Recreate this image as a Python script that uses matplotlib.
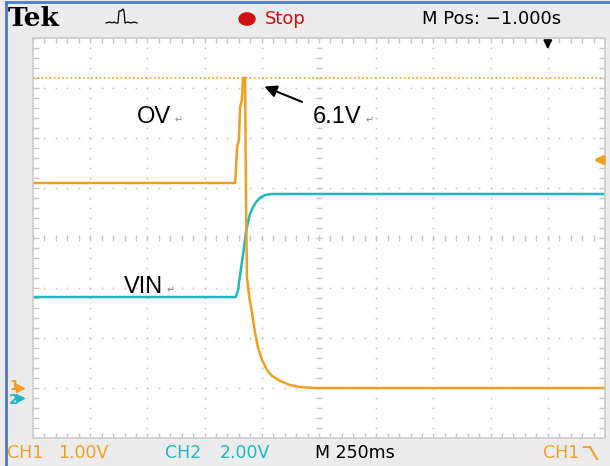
import numpy as np
import matplotlib
matplotlib.use("Agg")
from matplotlib import pyplot as plt
from matplotlib.lines import Line2D
from matplotlib.patches import Circle

# CH1 (OV) trace, time in s, volts
ov_t = [-1.25, -0.367, -0.363, -0.358, -0.350, -0.345, -0.337, -0.332, -0.323,
        -0.319, -0.315, -0.306, -0.293, -0.280, -0.267, -0.249, -0.227, -0.205,
        -0.170, -0.127, -0.083, -0.017, 1.25]
ov_v = [4.10, 4.10, 4.36, 4.82, 4.96, 5.62, 5.76, 6.20, 6.20,
        3.76, 2.22, 1.86, 1.50, 1.12, 0.82, 0.56, 0.36, 0.24,
        0.14, 0.06, 0.02, 0.0, 0.0]

# CH2 (VIN) trace
vin_t = [-1.25, -0.363, -0.354, -0.345, -0.337, -0.328, -0.319, -0.310, -0.302,
         -0.288, -0.275, -0.258, -0.236, -0.205, 1.25]
vin_v = [3.64, 3.64, 3.92, 4.52, 5.04, 5.60, 6.24, 6.64, 6.96,
         7.24, 7.44, 7.60, 7.72, 7.76, 7.76]

peak_v = 6.2
trig_level = 4.56
time_div = 0.25      # 250 ms/div
ch1_scale = 1.0      # V/div
ch2_scale = 2.0      # V/div
gnd_div = -3.0       # both ground markers

ORANGE = "#f0a020"
CYAN = "#20b8c0"
GRID = "#c4c4c4"
PANEL = "#ececec"

fig = plt.figure(figsize=(6.10, 4.66), dpi=100)
fig.patch.set_facecolor(PANEL)
W, H = 610.0, 466.0


def fx(px):
    return px / W


def fy(py):
    return 1 - py / H


# blue frame on the left and top
fig.add_artist(Line2D([fx(6), fx(6)], [0, fy(2)], color="#4a7cc8", lw=2))
fig.add_artist(Line2D([fx(6), 1], [fy(2), fy(2)], color="#4a7cc8", lw=2))

ax = fig.add_axes([fx(33), fy(438), fx(605) - fx(33), fy(38) - fy(438)])
ax.set_xlim(-5, 5)
ax.set_ylim(-4, 4)
ax.set_xticks([])
ax.set_yticks([])
for s in ax.spines.values():
    s.set_color("#cccccc")
    s.set_linewidth(1.2)

# graticule: dotted lines every division
dots = np.arange(-5, 5.001, 0.2)
dots_y = np.arange(-4, 4.001, 0.2)
for gx in range(-4, 5):
    if gx == 0:
        continue
    ax.plot([gx] * len(dots_y), dots_y, ls="none", marker="s", ms=1.2, color=GRID, mew=0)
for gy in range(-3, 4):
    if gy == 0:
        continue
    ax.plot(dots, [gy] * len(dots), ls="none", marker="s", ms=1.2, color=GRID, mew=0)
# center lines with small tick marks
ax.plot(dots, [0] * len(dots), ls="none", marker="|", ms=5, color=GRID, mew=1)
ax.plot([0] * len(dots_y), dots_y, ls="none", marker="_", ms=5, color=GRID, mew=1)
# edge ticks (inside only)
ax.plot(dots, [-3.96] * len(dots), ls="none", marker="|", ms=4, color=GRID, mew=1)
ax.plot(dots, [3.96] * len(dots), ls="none", marker="|", ms=4, color=GRID, mew=1)
ax.plot([-4.95] * len(dots_y), dots_y, ls="none", marker="_", ms=4, color=GRID, mew=1)
ax.plot([4.95] * len(dots_y), dots_y, ls="none", marker="_", ms=4, color=GRID, mew=1)

# peak cursor line
ax.axhline(peak_v / ch1_scale + gnd_div, color=ORANGE, ls=(0, (1, 1.5)), lw=1.2)

# traces
ax.plot(np.array(vin_t) / time_div, np.array(vin_v) / ch2_scale + gnd_div,
        color=CYAN, lw=1.8, solid_joinstyle="round")
ax.plot(np.array(ov_t) / time_div, np.array(ov_v) / ch1_scale + gnd_div,
        color=ORANGE, lw=1.8, solid_joinstyle="round")

# trigger position (top) and trigger level (right) markers
ax.annotate("", xy=(4.0, 3.72), xytext=(4.0, 4.0),
            arrowprops=dict(arrowstyle="-|>", color="black", lw=1.5, mutation_scale=12),
            annotation_clip=False)
ax.annotate("", xy=(4.75, trig_level / ch1_scale + gnd_div),
            xytext=(4.98, trig_level / ch1_scale + gnd_div),
            arrowprops=dict(arrowstyle="-|>", color=ORANGE, lw=2.5, mutation_scale=12),
            annotation_clip=False)

# ground markers
fig.text(fx(9), fy(386), "1", color=ORANGE, fontsize=10, fontweight="bold", va="center")
fig.text(fx(9), fy(400), "2", color=CYAN, fontsize=10, fontweight="bold", va="center")
fig.add_artist(Line2D([fx(20)], [fy(388)], marker=">", color=ORANGE, ms=6))
fig.add_artist(Line2D([fx(20)], [fy(398)], marker=">", color=CYAN, ms=6))

# annotations on the screen
tfont = ["Liberation Sans", "DejaVu Sans"]
ax.text(-3.18, 2.42, "OV", fontsize=17, family=tfont, va="center")
ax.text(-2.53, 2.36, "\u21b5", fontsize=7, color="#888888", va="center")
ax.text(-3.41, -0.98, "VIN", fontsize=17, family=tfont, va="center")
ax.text(-2.67, -1.04, "\u21b5", fontsize=7, color="#888888", va="center")
ax.text(-0.105, 2.42, "6.1V", fontsize=17, family=tfont, va="center")
ax.text(0.82, 2.36, "\u21b5", fontsize=7, color="#888888", va="center")
ax.annotate("", xy=(-1.0, 3.05), xytext=(-0.25, 2.7),
            arrowprops=dict(arrowstyle="-|>", color="black", lw=1.5, mutation_scale=18))

# header
fig.text(fx(8), fy(19), "Tek", fontsize=19, fontweight="bold", family="DejaVu Serif",
         va="center")
icon_x = [106, 110, 112, 114, 116, 118, 119, 121, 123, 124, 125, 128, 131, 134, 137]
icon_y = [23, 22, 23, 22, 23, 23, 11, 11, 9, 11, 23, 22, 23, 22, 23]
fig.add_artist(Line2D([fx(v) for v in icon_x], [fy(v) for v in icon_y],
                      color="black", lw=0.9))
fig.add_artist(Circle((fx(247), fy(19)), 8 / W, color="#d01010",
                      transform=fig.transFigure))
fig.text(fx(265), fy(19), "Stop", fontsize=13, color="#d01010", va="center")
fig.text(fx(422), fy(19), "M Pos: \u22121.000s", fontsize=13, va="center")

# footer
fs = 12.5
fig.text(fx(7), fy(453), "CH1", fontsize=fs, color=ORANGE, va="center")
fig.text(fx(58), fy(453), "1.00V", fontsize=fs, color=ORANGE, va="center")
fig.text(fx(165), fy(453), "CH2", fontsize=fs, color=CYAN, va="center")
fig.text(fx(220), fy(453), "2.00V", fontsize=fs, color=CYAN, va="center")
fig.text(fx(315), fy(453), "M 250ms", fontsize=fs, color="black", va="center")
fig.text(fx(543), fy(453), "CH1", fontsize=fs, color=ORANGE, va="center")
fig.add_artist(Line2D([fx(584), fx(590), fx(597)], [fy(447), fy(447), fy(459)],
                      color=ORANGE, lw=1.5))

fig.savefig("out.png", dpi=100, facecolor=fig.get_facecolor())
